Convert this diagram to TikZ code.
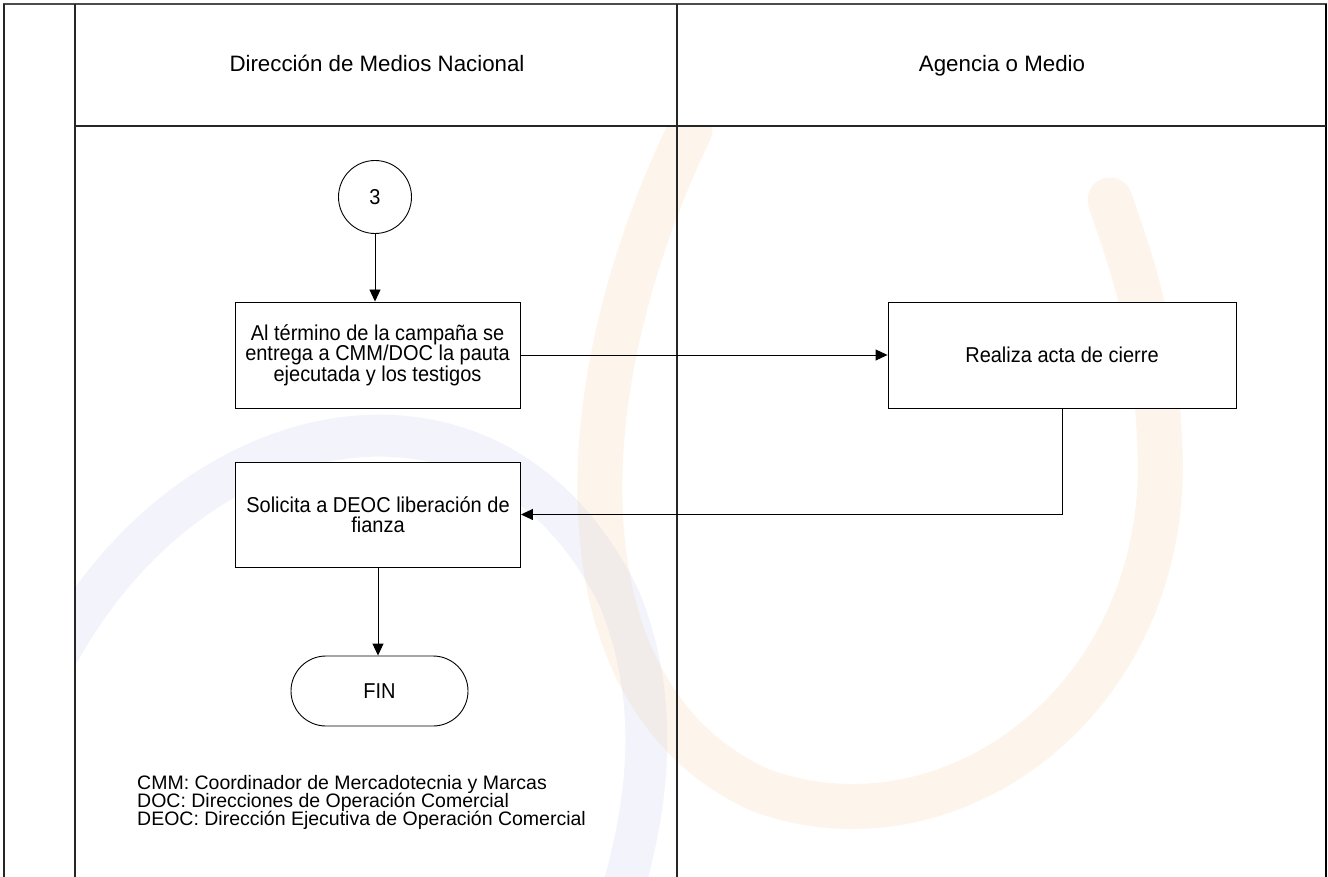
\documentclass[tikz,border=0pt]{standalone}
\usepackage{fontspec}
\setmainfont{Liberation Sans}
\newfontfamily\boxfont{Liberation Sans}[FakeStretch=0.93]
\usetikzlibrary{arrows.meta}
\definecolor{wmorange}{RGB}{245,160,70}
\definecolor{wmblue}{RGB}{90,110,200}
\begin{document}
\begin{tikzpicture}[x=1pt,y=-1pt,
  lane/.style={line width=1.4pt, draw=black!85},
  proc/.style={draw, line width=0.9pt, fill=white, align=center, font=\boxfont\fontsize{21.5}{20.5}\selectfont, inner sep=0pt},
  flow/.style={line width=0.9pt, -{Triangle[length=12pt,width=11pt]}},
  hdr/.style={font=\fontsize{22.3}{24}\selectfont, anchor=base, inner sep=0pt},
  legend/.style={font=\fontsize{19.5}{18}\selectfont, anchor=base west, inner sep=0pt},
  wmo/.style={draw=wmorange, draw opacity=0.10, line width=45pt, line cap=round},
  wmb/.style={draw=wmblue, draw opacity=0.07, line width=42pt, line cap=round}]
\useasboundingbox (0,0) rectangle (1328,877);
\fill[white] (0,0) rectangle (1328,877);
% watermark
\begin{scope}
\clip (76,127) rectangle (1325,877);
\draw[wmo] (690,130) .. controls (560,400) and (560,700) .. (760,790)
  .. controls (950,860) and (1170,700) .. (1160,450)
  .. controls (1155,320) and (1130,260) .. (1110,200);
\draw[wmb] (60,650) .. controls (200,400) and (500,350) .. (620,600)
  .. controls (660,700) and (650,800) .. (620,900);
\end{scope}
% lanes
\draw[lane, draw=black!70, line width=2pt] (3,4) -- (1327,4);
\draw[lane] (4,4) -- (4,877);
\draw[lane] (75,4) -- (75,877);
\draw[lane] (677,4) -- (677,877);
\draw[lane, draw=black, line width=2pt] (1326,4) -- (1326,877);
\draw[lane] (75,126) -- (1326,126);
\node[hdr] (h1) at (377,72) {Dirección de Medios Nacional};
\node[hdr] (h2) at (1002,72) {Agencia o Medio};
% nodes
\node[draw, circle, line width=0.9pt, fill=white, minimum size=73pt, inner sep=0pt, font=\boxfont\fontsize{21.5}{20}\selectfont] (c3) at (375,197) {3};
\node[proc, minimum width=285pt, minimum height=106pt] (b1) at (377.5,355) {Al término de la campaña se\\entrega a CMM/DOC la pauta\\ejecutada y los testigos};
\node[proc, minimum width=348pt, minimum height=106pt] (b2) at (1062,355) {Realiza acta de cierre};
\node[proc, minimum width=285pt, minimum height=105pt] (b3) at (378,514.5) {Solicita a DEOC liberación de\\fianza};
\node[proc, minimum width=177pt, minimum height=70pt, rounded corners=35pt] (fin) at (379.5,691) {FIN};
% connectors
\draw[flow] (c3.south) -- (c3.south |- b1.north);
\draw[flow] (b1.east) -- (b2.west);
\draw[flow] (b2.south) |- (b3.east);
\draw[flow] (b3.south) -- (b3.south |- fin.north);
% legend
\node[legend] (l1) at (137,789) {CMM: Coordinador de Mercadotecnia y Marcas};
\node[legend] (l2) at (137,807) {DOC: Direcciones de Operación Comercial};
\node[legend] (l3) at (137,825) {DEOC: Dirección Ejecutiva de Operación Comercial};
\end{tikzpicture}
\end{document}
